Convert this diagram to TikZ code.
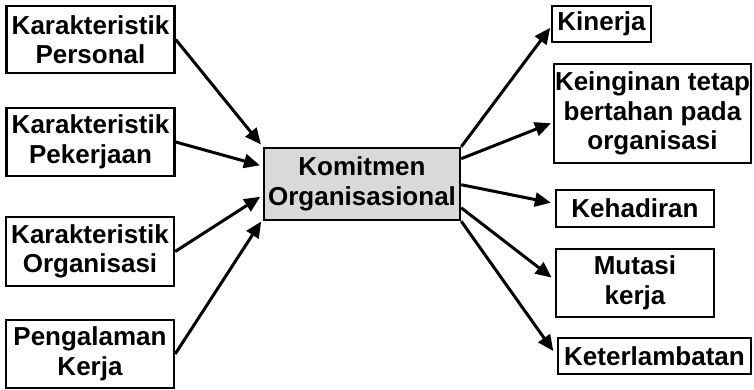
\documentclass[tikz,border=0pt]{standalone}
\usepackage{fontspec}
\setmainfont{Liberation Sans}
\usetikzlibrary{arrows.meta,calc}
\begin{document}
\begin{tikzpicture}[x=1pt,y=-1pt,
  box/.style={draw=black,line width=2.4pt,inner sep=0pt,align=center,
    font=\fontsize{26}{29.5}\selectfont\bfseries},
  arr/.style={line width=3pt,-{Triangle[length=16pt,width=14pt]}}]
\useasboundingbox (0,0) rectangle (754,390);
\node[box,minimum width=168pt,minimum height=67pt] (p1) at (90.5,39.5) {Karakteristik\\Personal};
\node[box,minimum width=168pt,minimum height=68pt] (p2) at (90.5,142) {Karakteristik\\Pekerjaan};
\node[box,minimum width=168pt,minimum height=69pt] (p3) at (90,251.5) {Karakteristik\\Organisasi};
\node[box,minimum width=168pt,minimum height=68pt] (p4) at (90,354) {Pengalaman\\Kerja};
\node[box,fill=black!15,minimum width=196pt,minimum height=72pt] (c) at (362,184) {Komitmen\\Organisasional};
\node[box,minimum width=99pt,minimum height=36pt] (k1) at (601.5,24) {Kinerja};
\node[box,minimum width=197pt,minimum height=99pt] (k2) at (652.5,113.5) {Keinginan tetap\\bertahan pada\\organisasi};
\node[box,minimum width=158pt,minimum height=37pt] (k3) at (635,208.5) {Kehadiran};
\node[box,minimum width=158pt,minimum height=68pt] (k4) at (635,283) {Mutasi\\kerja};
\node[box,minimum width=193pt,minimum height=36pt] (k5) at (654.5,356) {Keterlambatan};
\draw[arr,shorten >=3pt] (p1.east) -- (c.north west);
\draw[arr,shorten >=3pt] (p2.east) -- ($(c.north west)!0.26!(c.south west)$);
\draw[arr,shorten >=3pt] (p3.east) -- ($(c.north west)!0.65!(c.south west)$);
\draw[arr,shorten >=3pt] (p4.east) -- ($(c.north west)!0.97!(c.south west)$);
\draw[arr,shorten >=1pt] (c.north east) -- ($(k1.west)+(0,3)$);
\draw[arr,shorten >=2pt] ($(c.north east)!0.16!(c.south east)$) -- ($(k2.west)+(0,9)$);
\draw[arr,shorten >=4pt] ($(c.north east)!0.51!(c.south east)$) -- ($(k3.west)+(0,-5)$);
\draw[arr,shorten >=4pt] ($(c.north east)!0.82!(c.south east)$) -- ($(k4.west)+(0,-3)$);
\draw[arr,shorten >=6pt] (c.south east) -- (k5.west);
\end{tikzpicture}
\end{document}
